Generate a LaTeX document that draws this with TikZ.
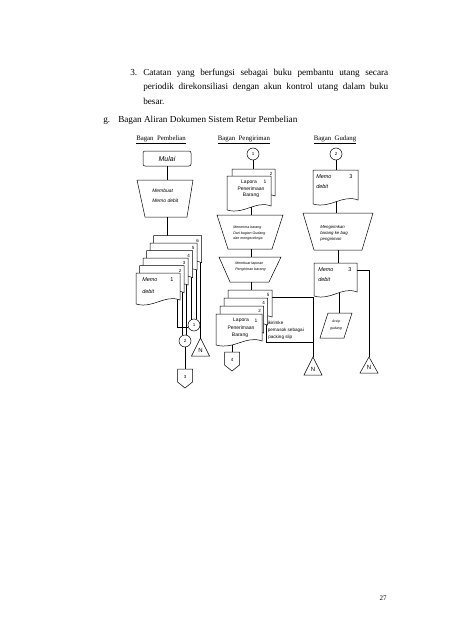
\documentclass[tikz,border=0pt]{standalone}
\usepackage{fontspec}
\setmainfont{Liberation Serif}
\newfontfamily\fcf{Liberation Sans}
% document shape: left, top, right, height
\newcommand\fdoc[4]{%
  \draw[fill=white] (#1,#2) -- (#3,#2) -- (#3,{#2+#4-4}) .. controls ({#3-0.35*(#3-#1)},{#2+#4-10}) and ({#1+0.4*(#3-#1)},{#2+#4+5}) .. (#1,{#2+#4}) -- cycle;}
% manual operation: ytop, xtl, xtr, ybot, xbl, xbr
\newcommand\ftrap[6]{%
  \draw (#2,#1) -- (#3,#1) -- (#6,#4) -- (#5,#4) -- cycle;}
% off-page connector: name, cx, top, label
\newcommand\foff[4]{%
  \draw ({#2-7.5},#3) -- ({#2+7.5},#3) -- ({#2+7.5},{#3+13}) -- (#2,{#3+19}) -- ({#2-7.5},{#3+13}) -- cycle;
  \node[fc=4.5] (#1) at (#2,{#3+8}) {#4};}
% archive triangle: name, apex x, apex y, base y
\newcommand\ftri[4]{%
  \draw (#2,#3) -- ({#2+9},#4) -- ({#2-9},#4) -- cycle;
  \node[fc=6] (#1) at (#2,{#4-5.5}) {N};}
\begin{document}
\begin{tikzpicture}[x=1pt,y=-1pt,line width=0.5pt,
  every node/.style={inner sep=0pt},
  fc/.style={font=\fcf\fontsize{#1}{#1}\selectfont},
  fci/.style={font=\fcf\itshape\fontsize{#1}{#1}\selectfont},
  body/.style={font=\fontsize{9.2}{11}\selectfont, anchor=base west},
  hdr/.style={font=\fontsize{6.8}{8}\selectfont},
  circ/.style={draw, circle, minimum size=12pt, font=\fcf\fontsize{4.5}{5}\selectfont},
  ]
\useasboundingbox (0,0) rectangle (452,640);

% ---------- body text ----------
\node[body] (t3) at (130,75) {3.};
\node[body] (t1) at (143,75) {\makebox[245pt][s]{Catatan yang berfungsi sebagai buku pembantu utang secara}};
\node[body] (t2) at (143,89) {\makebox[245pt][s]{periodik direkonsiliasi dengan akun kontrol utang dalam buku}};
\node[body] (t4) at (143,104) {besar.};
\node[body] (tg) at (103,122) {g.};
\node[body] (tgt) at (118,122) {Bagan Aliran Dokumen Sistem Retur Pembelian};

% ---------- headers ----------
\node[hdr] (h1) at (161,140) {\underline{Bagan\ \ Pembelian}};
\node[hdr] (h2) at (244,140) {\underline{Bagan\ \ Pengiriman}};
\node[hdr] (h3) at (335,140) {\underline{Bagan\ \ Gudang}};

% ---------- left column ----------
\node[draw, rounded corners=2pt, minimum width=48pt, minimum height=15pt, fci=7] (mulai) at (167,158.5) {Mulai};
\coordinate (tl1) at (167,180);
\draw (mulai.south) -- (tl1);
\ftrap{180}{137}{193}{217}{145}{187}
\node[fci=5, anchor=west] (mb1) at (152,191) {Membuat};
\node[fci=5, anchor=west] (mb2) at (152,201) {Memo debit};
\coordinate (tb1) at (167,217);
\coordinate (s1) at (167,235.5);
\draw (tb1) -- (s1);

\node[circ] (c1) at (194,325) {1};
\node[circ] (c2) at (185,341) {2};
\coordinate (na) at (200.5,338);
% connectors from the copies (drawn under the documents)
\draw (c1.199.5) -| (177,290);
\draw (c2.114.6) -- (c2.114.6 |- 0,278);
\draw (c2.75.5) -- (c2.75.5 |- 0,270);
\draw (c1.120) -- (c1.120 |- 0,262);
\draw (c1.70.5) -- (c1.70.5 |- 0,255);
\draw (na) -- (200.5,250);
\draw (c2.south) -- (185,369);

\fdoc{153.5}{235.5}{201.5}{31}
\fdoc{150}{243}{197}{31}
\fdoc{146.5}{250.5}{192.5}{31}
\fdoc{143}{258}{188}{31}
\fdoc{139.5}{265.5}{184}{31}
\fdoc{136}{273}{180}{31}
\node[fc=4.5] (n6) at (197.5,240.5) {6};
\node[fc=4.5] (n5) at (193,248) {5};
\node[fc=4.5] (n4) at (188.5,255.5) {4};
\node[fc=4.5] (n3) at (184,263) {3};
\node[fc=4.5] (n2) at (180,270.5) {2};
\node[fci=5.5, anchor=west] (m1a) at (142,280) {Memo};
\node[fc=5.5] (m1b) at (172,280) {1};
\node[fci=5.5, anchor=west] (m1c) at (142,292) {debit};

\ftri{nl}{200.5}{338}{356}
\foff{p3}{185}{369}{3}

% ---------- middle column ----------
\node[circ] (c3) at (253,154) {1};
\draw (c3.south) -- (253,169);
\draw (251,200) -- (251,215);
\fdoc{232}{169}{275}{31}
\node[fc=4.5] (m2n) at (271,173.5) {2};
\fdoc{227}{176}{271}{34}
\node[fc=5] (lp1) at (249,182) {Lapora};
\node[fc=5] (lp1n) at (265,182) {1};
\node[fc=5] (lp2) at (251,188.5) {Penerimaan};
\node[fc=5] (lp3) at (251,195) {Barang};

\ftrap{215}{217}{283}{249}{228}{272}
\node[fci=3.6, anchor=west] (tr1a) at (233,228) {Menerima barang};
\node[fci=3.6, anchor=west] (tr1b) at (233,233.5) {Dari bagian Gudang};
\node[fci=3.6, anchor=west] (tr1c) at (233,239) {dan mengeceknya};
\draw (251,249) -- (251,257);
\ftrap{257}{219}{281}{282}{230}{269}
\node[fci=3.6, anchor=west] (tr2a) at (235,264) {Membuat laporan};
\node[fci=3.6, anchor=west] (tr2b) at (235,270) {Pengiriman barang};
\draw (251,282) -- (251,290);

% annotation box and route to archive
\coordinate (bx1) at (266,297);
\coordinate (bx2) at (313,342);
\draw (bx1) rectangle (bx2);
\draw (bx2) -- (313,357);
\ftri{nm}{313}{357}{375}

\draw (232,335) -- (232,352);
\fdoc{228}{290}{272}{31}
\fdoc{224}{298}{267.5}{31}
\fdoc{220}{306}{263.5}{31}
\fdoc{216}{314}{262}{31}
\node[fc=4.5] (k5) at (268,295) {5};
\node[fc=4.5] (k4) at (263.5,303) {4};
\node[fc=4.5] (k2) at (259.5,311) {2};
\node[fc=5] (lq1) at (241,320.5) {Lapora};
\node[fc=5] (lq1n) at (256,320.5) {1};
\node[fc=5] (lq2) at (241,327.5) {Penerimaan};
\node[fc=5] (lq3) at (240,335) {Barang};
\foff{p4}{232}{352}{4}
\node[fc=4.6, anchor=west] (an1) at (267.5,323) {ikirimke};
\node[fc=4.6, anchor=west] (an2) at (267.5,330) {pemasok sebagai};
\node[fc=4.6, anchor=west] (an3) at (268,337) {packing slip};

% ---------- right column ----------
\node[circ] (c5) at (336,154) {2};
\draw (c5.south) -- (336,170);
\draw (336,195) -- (336,213);
\fdoc{313}{170}{358}{34}
\node[fci=5.5, anchor=west] (g1a) at (316,177) {Memo};
\node[fc=5.5] (g1b) at (351,177) {3};
\node[fci=5.5, anchor=west] (g1c) at (316,187) {debit};
\ftrap{213}{303}{373}{250}{314}{362}
\node[fci=4.3, anchor=west] (g2a) at (320,227) {Mengirimkan};
\node[fci=4.3, anchor=west] (g2b) at (320,233) {barang ke bag};
\node[fci=4.3, anchor=west] (g2c) at (320,239) {pengiriman};
\draw (338,250) -- (338,263);
\draw (339,290) -- (339,313);
\fdoc{314}{263}{357}{33}
\node[fci=5.5, anchor=west] (g3a) at (318,270) {Memo};
\node[fc=5.5] (g3b) at (350,270) {3};
\node[fci=5.5, anchor=west] (g3c) at (318,280) {debit};
\draw (357,270) -- (369,270) -- (369,357);
\ftri{nr}{369}{357}{373}
\draw (328,313) -- (352,313) -- (344,338) -- (320,338) -- cycle;
\node[fci=3.5] (ar1) at (336,322) {Arsip};
\node[fci=3.5] (ar2) at (336,328.5) {gudang};

% page number
\node[font=\fontsize{7}{8}\selectfont] (pg) at (383,598) {27};
\end{tikzpicture}
\end{document}
